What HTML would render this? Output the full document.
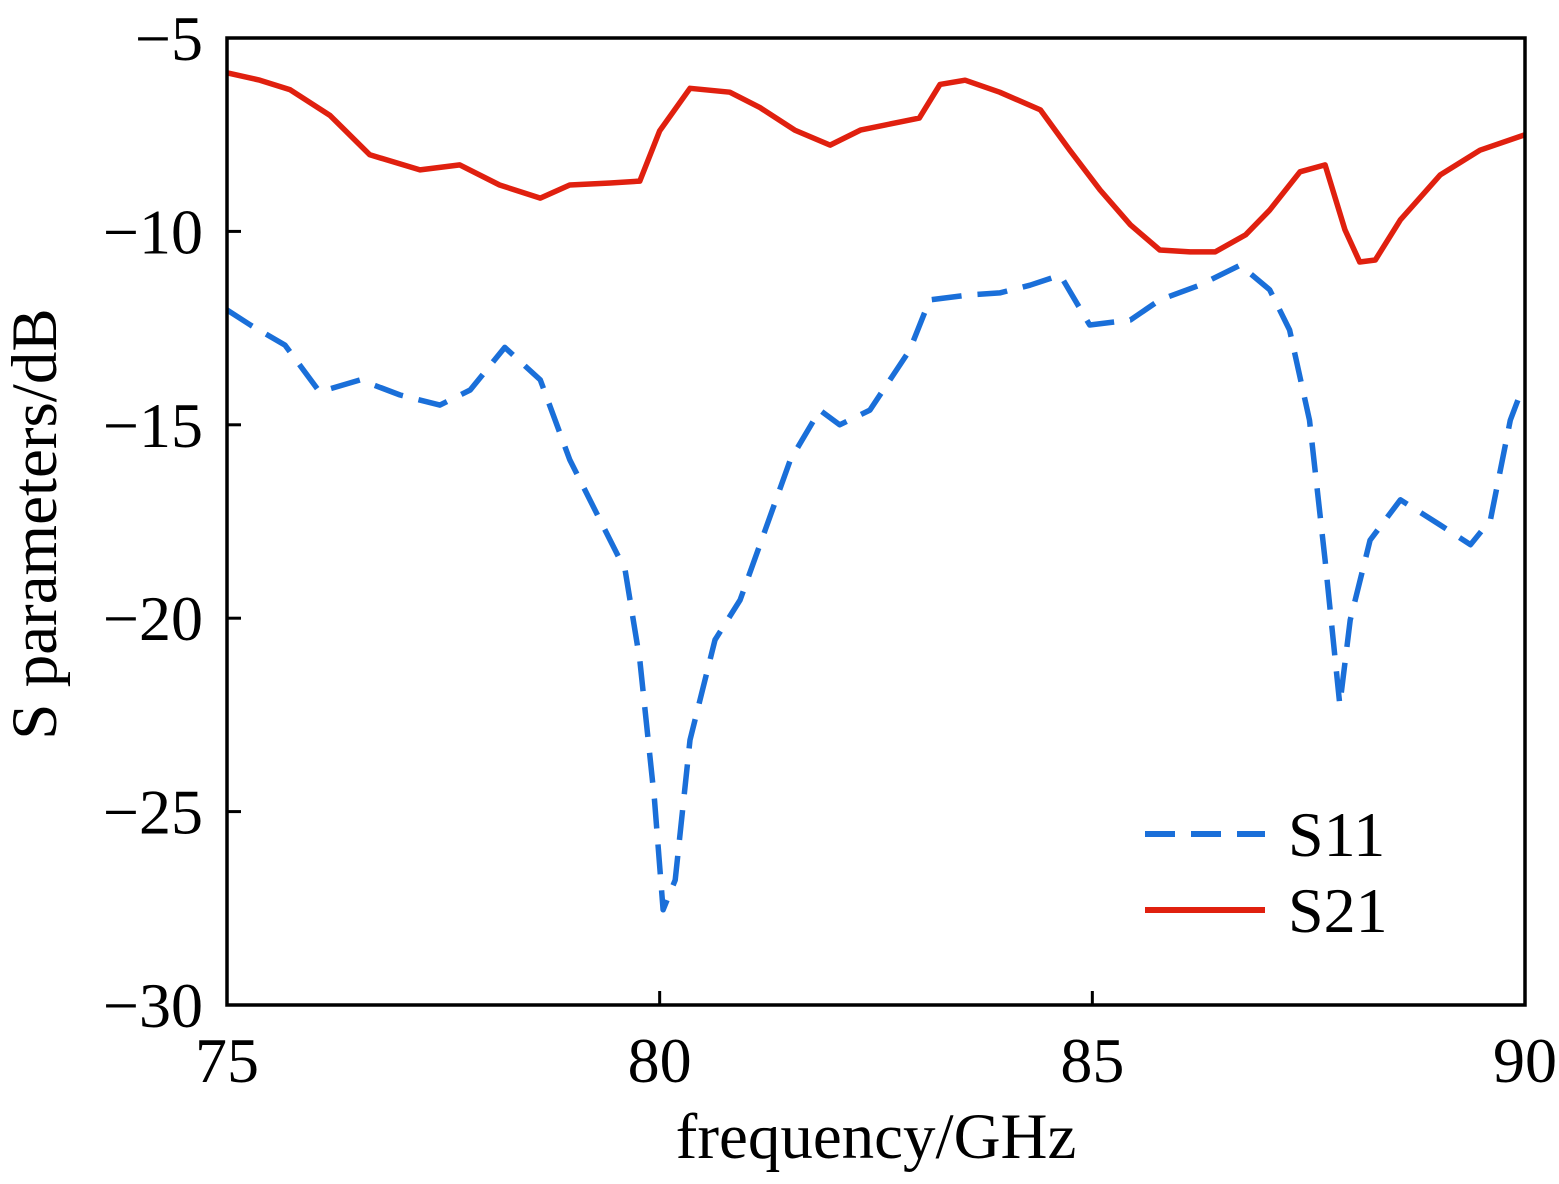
<!DOCTYPE html>
<html><head><meta charset="utf-8"><style>
html,body{margin:0;padding:0;background:#fff;}
svg text{font-family:"Liberation Serif",serif;fill:#000;}
</style></head><body>
<svg id="chart" width="1559" height="1179" viewBox="0 0 1559 1179" xmlns="http://www.w3.org/2000/svg">
<g id="series"></g>
<rect x="227" y="38" width="1298" height="967" fill="none" stroke="#000" stroke-width="3.5"/>
<g id="ticks"></g>
<text x="876" y="1158" font-size="65" text-anchor="middle">frequency/GHz</text>
<text transform="translate(56,524) rotate(-90)" font-size="65" text-anchor="middle">S parameters/dB</text>
<g>
<line x1="1145" y1="834" x2="1265" y2="834" stroke="#1a6fd9" stroke-width="6" stroke-dasharray="30,16"/>
<text x="1288" y="856" font-size="64">S11</text>
<line x1="1145" y1="910" x2="1265" y2="910" stroke="#e0200f" stroke-width="6"/>
<text x="1288" y="932" font-size="64">S21</text>
</g>
</svg>
<script>
const xTicks=[75,80,85,90];
const yTicks=[-5,-10,-15,-20,-25,-30];
const s21Freq=[75,75.38,75.73,76.19,76.65,77.23,77.69,78.15,78.62,78.96,79.43,79.77,80.0,80.35,80.81,81.16,81.56,81.97,82.32,82.78,83.0,83.24,83.53,83.93,84.4,84.74,85.09,85.44,85.78,86.13,86.42,86.77,87.05,87.4,87.69,87.92,88.09,88.27,88.56,89.02,89.48,90];
const s21Val=[-5.9,-6.09,-6.34,-7.0,-8.02,-8.41,-8.28,-8.8,-9.14,-8.8,-8.75,-8.7,-7.4,-6.3,-6.4,-6.8,-7.38,-7.77,-7.38,-7.17,-7.07,-6.2,-6.09,-6.4,-6.86,-7.9,-8.93,-9.83,-10.48,-10.53,-10.53,-10.09,-9.45,-8.46,-8.28,-9.96,-10.79,-10.74,-9.7,-8.54,-7.9,-7.5];
const s11Freq=[75,75.27,75.67,76.07,76.54,77.0,77.46,77.81,78.21,78.62,78.96,79.31,79.6,79.77,79.94,80.04,80.18,80.35,80.64,80.93,81.22,81.51,81.85,82.08,82.43,82.89,83.12,83.59,83.93,84.28,84.63,84.97,85.44,85.78,86.24,86.71,87.05,87.28,87.51,87.69,87.86,87.98,88.21,88.56,89.02,89.37,89.6,89.83,89.94];
const s11Val=[-12.03,-12.42,-12.94,-14.15,-13.84,-14.23,-14.49,-14.1,-13.0,-13.84,-15.9,-17.46,-18.75,-21.08,-24.7,-27.54,-26.77,-23.15,-20.56,-19.53,-17.72,-15.91,-14.62,-15.0,-14.62,-13.07,-11.77,-11.64,-11.59,-11.39,-11.13,-12.42,-12.29,-11.77,-11.39,-10.87,-11.51,-12.55,-14.88,-18.5,-22.24,-20.05,-17.98,-16.94,-17.59,-18.1,-17.46,-14.88,-14.23];

const NS="http://www.w3.org/2000/svg";
const X0=227,X1=1525,Y0=38,Y1=1005;
function xs(f){return X0+(f-75)/(90-75)*(X1-X0);}
function ys(v){return Y0+(-5-v)/(25)*(Y1-Y0);}
const tg=document.getElementById('ticks');
xTicks.forEach(t=>{
  const l=document.createElementNS(NS,'line');
  
  
  l.setAttribute('x1',xs(t));l.setAttribute('x2',xs(t));l.setAttribute('y1',Y1);l.setAttribute('y2',Y1-14);
  l.setAttribute('stroke','#000');l.setAttribute('stroke-width','3');tg.appendChild(l);
  const tx=document.createElementNS(NS,'text');
  
  
  tx.setAttribute('x',xs(t));tx.setAttribute('y',1082);tx.setAttribute('font-size','64');tx.setAttribute('text-anchor','middle');
  tx.textContent=t;tg.appendChild(tx);
});
yTicks.forEach(t=>{
  const l=document.createElementNS(NS,'line');
  
  
  l.setAttribute('x1',X0);l.setAttribute('x2',X0+14);l.setAttribute('y1',ys(t));l.setAttribute('y2',ys(t));
  l.setAttribute('stroke','#000');l.setAttribute('stroke-width','3');tg.appendChild(l);
  const tx=document.createElementNS(NS,'text');
  
  
  tx.setAttribute('x',203);tx.setAttribute('y',ys(t)+22);tx.setAttribute('font-size','64');tx.setAttribute('text-anchor','end');
  tx.textContent=String(t).replace('-','\u2212');tg.appendChild(tx);
});
const sg=document.getElementById('series');
function draw(fr,vals,color,dash,name){
  const p=document.createElementNS(NS,'path');
  
  
  p.setAttribute('d',fr.map((f,i)=>(i?'L':'M')+xs(f).toFixed(1)+','+ys(vals[i]).toFixed(1)).join(''));
  p.setAttribute('fill','none');p.setAttribute('stroke',color);p.setAttribute('stroke-width','5.5');
  p.setAttribute('stroke-linejoin','round');
  if(dash)p.setAttribute('stroke-dasharray',dash);
  sg.appendChild(p);
}
draw(s21Freq,s21Val,'#e0200f',null,'s21-line');
draw(s11Freq,s11Val,'#1a6fd9','30,16','s11-line');
</script>
</body></html>
